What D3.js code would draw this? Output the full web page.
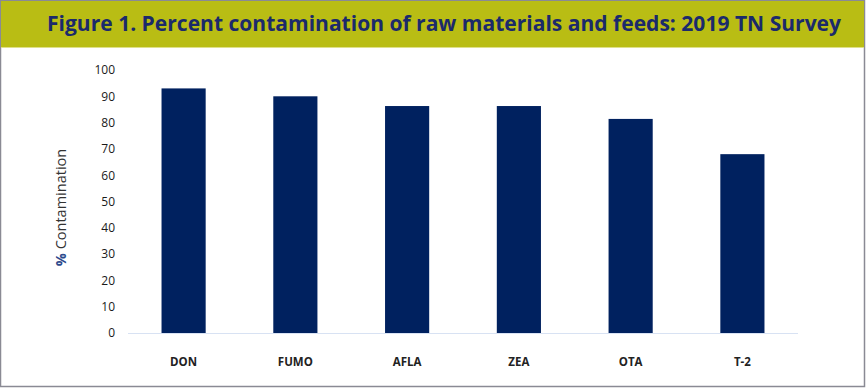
<!DOCTYPE html>
<html>
<head>
<meta charset="utf-8">
<style>
  body { margin: 0; background: #fff; }
  svg { display: block; }
</style>
</head>
<body>
<svg id="chart" width="867" height="389"></svg>
<script src="https://d3js.org/d3.v7.min.js"></script>
<script>
var categories = ["DON", "FUMO", "AFLA", "ZEA", "OTA", "T-2"];
var values = [93, 90, 86.3, 86.3, 81.4, 68];
var yTicks = [0, 10, 20, 30, 40, 50, 60, 70, 80, 90, 100];

var svg = d3.select("#chart");
var W = 867, H = 389;

// outer frame
svg.append("rect")
  .attr("x", 0.5).attr("y", 0.5)
  .attr("width", W - 3).attr("height", H - 3)
  .attr("fill", "#fff")
  .attr("stroke", "#8a8a94")
  .attr("stroke-width", 1.5);

// title band
svg.append("rect")
  .attr("x", 1).attr("y", 1)
  .attr("width", W - 4).attr("height", 46)
  .attr("fill", "#b9bd14");
svg.append("line")
  .attr("x1", 1).attr("x2", W - 3)
  .attr("y1", 47.5).attr("y2", 47.5)
  .attr("stroke", "#dfe08a");

svg.append("text")
  .attr("x", 47).attr("y", 31)
  .attr("textLength", 794)
  .attr("lengthAdjust", "spacingAndGlyphs")
  .attr("font-family", "'Open Sans', 'Noto Sans', sans-serif")
  .attr("font-weight", "bold")
  .attr("font-size", "21px")
  .attr("fill", "#1b2a6b")
  .text("Figure 1. Percent contamination of raw materials and feeds: 2019 TN Survey");

var margin = { left: 128, right: 69, top: 70, bottom: 56 };
var x = d3.scaleBand()
  .domain(categories)
  .range([margin.left, W - margin.right])
  .paddingInner(0.605)
  .paddingOuter(0.3);
var y = d3.scaleLinear()
  .domain([0, 100])
  .range([H - margin.bottom, margin.top]);

// y axis labels
var yAxis = d3.axisLeft(y).tickValues(yTicks).tickSize(0).tickPadding(0);
var yg = svg.append("g")
  .attr("transform", "translate(" + 115 + ",0)")
  .call(yAxis);
yg.select(".domain").remove();
yg.selectAll("text")
  .attr("font-family", "'Open Sans', 'Noto Sans', sans-serif")
  .attr("font-size", "12px")
  .attr("fill", "#1a1a1a");

// bars
svg.append("g").selectAll("rect")
  .data(categories)
  .enter()
  .append("rect")
  .attr("x", d => x(d))
  .attr("width", x.bandwidth())
  .attr("y", (d, i) => y(values[i]))
  .attr("height", (d, i) => y(0) - y(values[i]))
  .attr("fill", "#00215f");

// baseline
svg.append("line")
  .attr("x1", margin.left).attr("x2", 798)
  .attr("y1", y(0) + 0.5).attr("y2", y(0) + 0.5)
  .attr("stroke", "#d8e2f3")
  .attr("stroke-width", 1);

// x axis labels
var xAxis = d3.axisBottom(x).tickSize(0).tickPadding(0);
var xg = svg.append("g")
  .attr("transform", "translate(0," + (y(0) + 25) + ")")
  .call(xAxis);
xg.select(".domain").remove();
xg.selectAll("text")
  .attr("font-family", "'Open Sans', 'Noto Sans', sans-serif")
  .attr("font-weight", "bold")
  .attr("font-size", "11.5px")
  .attr("fill", "#222");

// y title
var yt = svg.append("text")
  .attr("transform", "translate(66," + (y(50) + 6) + ") rotate(-90)")
  .attr("text-anchor", "middle")
  .attr("font-family", "'Open Sans', 'Noto Sans', sans-serif")
  .attr("font-size", "14.5px")
  .attr("fill", "#333");
yt.append("tspan").attr("fill", "#2c4a8c").attr("font-weight", "bold").text("%");
yt.append("tspan").text(" Contamination");
</script>
</body>
</html>
